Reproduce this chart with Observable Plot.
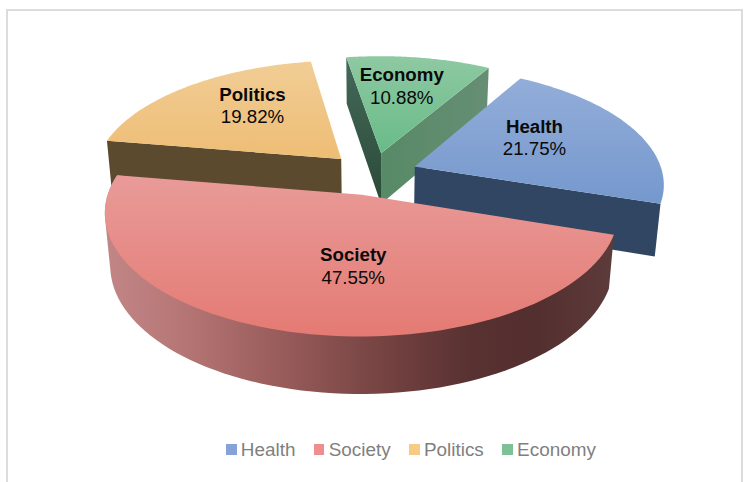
<!DOCTYPE html>
<html><head><meta charset="utf-8">
<script src="https://cdn.jsdelivr.net/npm/d3@7"></script>
<script src="https://cdn.jsdelivr.net/npm/@observablehq/plot@0.6"></script>
<style>
html,body{margin:0;background:#fff;overflow:hidden;width:746px;height:482px}
#frame{position:absolute;left:6px;top:9px;width:737px;height:500px;box-sizing:border-box;border:2px solid #dcdcdc}
#chart{position:absolute;left:0;top:0}
#legend{position:absolute;left:226px;top:437px;display:flex;font:18.9px "Liberation Sans",Arial,sans-serif;color:#7f7f7f;line-height:25px}
#legend span{display:flex;align-items:center;margin-right:18.5px}
#legend i{display:block;width:10.5px;height:10.5px;margin-right:4.3px}
</style></head>
<body>
<div id="frame"></div><div id="chart"></div><div id="legend"></div>
<script>
// Topic shares in percent, in clockwise order.
const categories = ["Health", "Society", "Politics", "Economy"];
const shares = [21.75, 47.55, 19.82, 10.88];
const swatches = ["#86a2d6", "#ee8f8d", "#f7ca85", "#7cc296"];

// Camera for the tilted, exploded pie: a unit disc seen in perspective.
const view = {cx: 372.49, cy: 173.36, focal: 248.02, tilt: 0.4669, depth: 0.138,
              firstAngle: 30.04, thickness: 0.2116, sink: 0.0197};
const explode = [0.1819, 0.1818, 0.185, 0.1849];
// How far along each slice its label sits, and how many degrees it is turned off the mid-angle.
const labelReach = [0.572, 0.545, 0.644, 0.667];
const labelTurn = [-6.1, -11, 6.6, -2.2];

const cumulative = [0];
shares.forEach(s => cumulative.push(cumulative[cumulative.length - 1] + s));
const rad = d => d * Math.PI / 180;
const edge = i => rad(view.firstAngle + 3.6 * cumulative[i]);
const midAngle = i => (edge(i) + edge(i + 1)) / 2;

function project(i, r, phi, z) {
  const m = midAngle(i), e = explode[i];
  const X = e * Math.sin(m) + r * Math.sin(phi);
  const Y = -e * Math.cos(m) - r * Math.cos(phi);
  const w = 1 - view.depth * Y + view.sink * z;
  return [view.cx + view.focal * X / w, view.cy + view.focal * (view.tilt * Y + view.thickness * z) / w];
}
const apex = (i, z) => project(i, 0, 0, z);
const rim = (i, z) => d3.range(0, 81).map(t => project(i, 1, edge(i) + (edge(i + 1) - edge(i)) * t / 80, z));
const sideWall = (i, k) => [apex(i, 0), project(i, 1, edge(k), 0), project(i, 1, edge(k), 1), apex(i, 1)];
// The hull keeps the tangent silhouette between the upper and lower rims; the top face hides its chord.
const outerWall = i => d3.polygonHull([...rim(i, 0), ...rim(i, 1)]);
const topFace = i => [apex(i, 0), ...rim(i, 0)];

// Shared gradients for the lit top faces and the shaded walls.
function gradients() {
  const defs = d3.create("svg:defs");
  const add = (id, horizontal, stops) => {
    const g = defs.append("linearGradient").attr("id", id)
      .attr("x1", 0).attr("y1", 0).attr("x2", horizontal ? 1 : 0).attr("y2", horizontal ? 0 : 1);
    stops.forEach(([o, c]) => g.append("stop").attr("offset", o).attr("stop-color", c));
  };
  add("topHealth", false, [[0, "#93add9"], [1, "#7598cd"]]);
  add("topSociety", false, [[0, "#e99b99"], [1, "#e47a73"]]);
  add("topPolitics", false, [[0, "#f1cd95"], [1, "#eebd75"]]);
  add("topEconomy", false, [[0, "#8ec9a2"], [1, "#69bb88"]]);
  add("wallSociety", true, [[0, "#c28686"], [0.15, "#b67676"], [0.3, "#a06261"], [0.45, "#864f4e"],
                            [0.58, "#6f3f3e"], [0.72, "#583131"], [0.85, "#542f30"], [1, "#5e3b3b"]]);
  add("wallEconomyLeft", false, [[0, "#44695a"], [1, "#2b4a37"]]);
  add("wallEconomyRight", true, [[0, "#578a66"], [1, "#668e74"]]);
  return defs.node();
}

const face = (pts, fill) => Plot.line(pts, {x: d => d[0], y: d => d[1], fill, stroke: "none"});

// Painted back to front; only the walls facing the viewer are drawn.
const slices = [
  face(sideWall(3, 3), "url(#wallEconomyLeft)"),
  face(sideWall(3, 4), "url(#wallEconomyRight)"),
  face(topFace(3), "url(#topEconomy)"),
  face(sideWall(2, 2), "#5c4a2f"),
  face(topFace(2), "url(#topPolitics)"),
  face(sideWall(0, 1), "#314662"),
  face(topFace(0), "url(#topHealth)"),
  face(outerWall(1), "url(#wallSociety)"),
  face(topFace(1), "url(#topSociety)")
];

const labels = categories.map((name, i) => {
  const [x, y] = project(i, labelReach[i], midAngle(i) + rad(labelTurn[i]), 0);
  return {name, value: shares[i].toFixed(2) + "%", x, y};
});
const labelFont = {x: "x", y: "y", fontFamily: "Liberation Sans, Arial, sans-serif", fontSize: 18.7, fill: "#0a0a0a"};

document.getElementById("chart").append(Plot.plot({
  width: 746, height: 432, margin: 0, axis: null,
  style: {background: "transparent"},
  x: {domain: [0, 746], range: [0, 746]},
  y: {domain: [0, 432], range: [0, 432]},
  marks: [
    gradients,
    ...slices,
    Plot.text(labels, {...labelFont, text: "name", dy: -11.25, fontWeight: "bold"}),
    Plot.text(labels, {...labelFont, text: "value", dy: 11.25})
  ]
}));

const legend = d3.select("#legend");
categories.forEach((name, i) => {
  const item = legend.append("span");
  item.append("i").style("background", swatches[i]);
  item.append("b").style("font-weight", "normal").text(name);
});
</script></body></html>
